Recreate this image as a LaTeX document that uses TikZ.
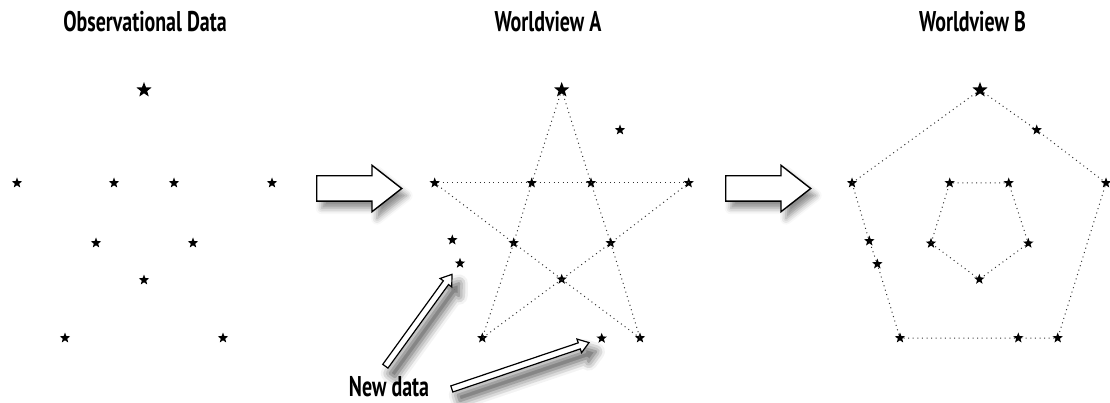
\documentclass[tikz,border=0pt]{standalone}
\usepackage{fontspec}
\setmainfont{PT Sans}
\newfontfamily\condfont[FakeStretch=0.7]{PT Sans Bold}
\usetikzlibrary{calc,shapes.geometric,shapes.arrows,shadows.blur}

\tikzset{
  dot/.style={star,star points=5,star point ratio=2.4,fill=black,inner sep=0pt,minimum size=11pt},
  bigdot/.style={dot,minimum size=16pt},
  link/.style={draw=black!80,line width=1pt,dash pattern=on 1pt off 3.6pt,shorten <=-3pt,shorten >=-3pt},
  title/.style={font=\condfont\fontsize{28.5}{30}\selectfont,anchor=base,inner sep=1pt},
  hollow/.style={single arrow,draw=black,fill=white,line width=1.4pt,inner sep=0pt,anchor=tail,
    single arrow head indent=0pt,
    blur shadow={shadow xshift=5pt,shadow yshift=-7pt,shadow blur radius=6pt,shadow opacity=45}},
  bigarrow/.style={hollow,inner ysep=12pt,inner xsep=0pt,single arrow head extend=10.5pt,
    single arrow tip angle=76,minimum height=85pt},
  newarrow/.style={hollow,line width=1.2pt,inner ysep=2.6pt,inner xsep=0pt,single arrow head extend=4pt,
    single arrow tip angle=70,
    blur shadow={shadow xshift=7pt,shadow yshift=-9pt,shadow blur radius=9pt,shadow opacity=40}}
}

\begin{document}
\begin{tikzpicture}[x=1pt,y=-1pt]
\useasboundingbox (0,0) rectangle (1110,403);

% titles
\node[title] (t-obs) at (145,31.7) {Observational Data};
\node[title] (t-a) at (548,31.7) {Worldview A};
\node[title] (t-b) at (972.5,31.7) {Worldview B};

% observational data
\node[bigdot] (o0) at (144,90) {};
\foreach \n/\x/\y in {1/17/183,2/114/183,3/174/183,4/272/183,5/96/243,6/193/243,7/144/280,8/65/338,9/223/338}
  \node[dot] (o\n) at (\x,\y) {};

% worldview A: a pentagram plus the odd ones
\node[bigdot] (a0) at (561.7,90) {};
\foreach \n/\x/\y in {1/434.7/183,2/531.7/183,3/591/183,4/688.7/183,5/513.7/243,6/610.7/243,7/561.7/279.3,8/482.3/338,9/640/338}
  \node[dot] (a\n) at (\x,\y) {};
\node[dot] (a10) at (620,130) {};
\node[dot] (a11) at (452.3,240) {};
\node[dot] (a12) at (460,263.3) {};
\node[dot] (a13) at (601.7,338.3) {};

\draw[link] (a0) -- (a2) -- (a5) -- (a8);
\draw[link] (a0) -- (a3) -- (a6) -- (a9);
\draw[link] (a1) -- (a2) -- (a3) -- (a4);
\draw[link] (a1) -- (a5) -- (a7) -- (a9);
\draw[link] (a4) -- (a6) -- (a7) -- (a8);

% worldview B: two pentagons
\node[bigdot] (b0) at (980,90) {};
\foreach \n/\x/\y in {1/1036.7/130,2/1106/183,3/1057.7/338,4/1018.3/338,5/900/338,6/877.3/264,7/869.3/241,8/852/183}
  \node[dot] (b\n) at (\x,\y) {};
\foreach \n/\x/\y in {1/949.7/183,2/1008.7/183,3/1028.3/243.3,4/979.3/279.3,5/931/243.3}
  \node[dot] (c\n) at (\x,\y) {};

\draw[link] (b0) -- (b1) -- (b2) -- (b3) -- (b4) -- (b5) -- (b6) -- (b7) -- (b8) -- (b0);
\draw[link] (c1) -- (c2) -- (c3) -- (c4) -- (c5) -- (c1);

% big arrows between the panels
\node[bigarrow] (step1) at (316,188.5) {};
\node[bigarrow] (step2) at (725,188.5) {};

% new data
\node[title] (nd) at (389,396) {New data};
\coordinate (tail1) at ($(nd.north)+(-4,-8)$);
\coordinate (tail2) at ($(nd.east)+(21,3)$);
\coordinate (tip1) at ($(a12)!14pt!(tail1)$);
\coordinate (tip2) at ($(a13)!14pt!(tail2)$);
\path let \p1=($(tip1)-(tail1)$), \n1={atan2(\y1,\x1)}, \n2={veclen(\x1,\y1)} in
  node[newarrow,rotate=\n1,minimum height=\n2] (na1) at (tail1) {};
\path let \p1=($(tip2)-(tail2)$), \n1={atan2(\y1,\x1)}, \n2={veclen(\x1,\y1)} in
  node[newarrow,rotate=\n1,minimum height=\n2] (na2) at (tail2) {};
\end{tikzpicture}
\end{document}
